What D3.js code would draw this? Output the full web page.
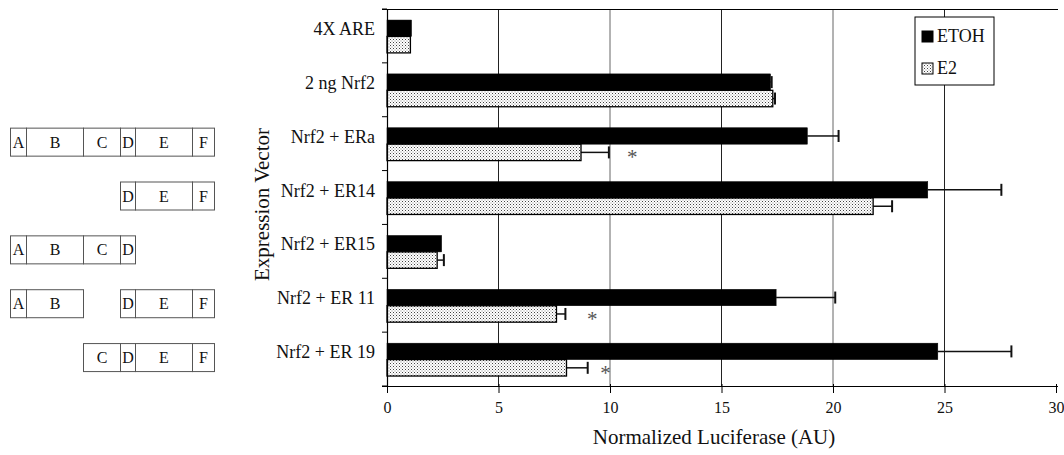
<!DOCTYPE html>
<html>
<head>
<meta charset="utf-8">
<script src="https://cdn.jsdelivr.net/npm/d3@7"></script>
<style>
  html, body { margin: 0; padding: 0; background: #fff; }
  svg { display: block; font-family: "Liberation Serif", "Times New Roman", serif; }
</style>
</head>
<body>
<svg id="chart" width="1064" height="455"></svg>
<script>
// ---- data ----
const categories = ["4X ARE", "2 ng Nrf2", "Nrf2 + ERa", "Nrf2 + ER14", "Nrf2 + ER15", "Nrf2 + ER 11", "Nrf2 + ER 19"];
const series = ["ETOH", "E2"];
const etohValues = [1.1, 17.2, 18.85, 24.25, 2.45, 17.45, 24.7];
const etohErrors = [0, 0.05, 1.4, 3.3, 0, 2.65, 3.3];
const e2Values = [1.05, 17.3, 8.7, 21.8, 2.25, 7.6, 8.05];
const e2Errors = [0, 0.1, 1.25, 0.85, 0.3, 0.4, 0.95];
const significant = [false, false, true, false, false, true, true];
const starValues = [0, 0, 11.0, 0, 0, 9.2, 9.8];
const xTicks = [0, 5, 10, 15, 20, 25, 30];
const xTitle = "Normalized Luciferase (AU)";
const yTitle = "Expression Vector";

// domain diagrams (schematic domain boundaries, arbitrary units)
const domainNames = ["A", "B", "C", "D", "E", "F"];
const domainStart = [0, 16, 73, 110, 125, 182];
const domainEnd = [16, 73, 110, 125, 182, 204];
const constructCategories = ["Nrf2 + ERa", "Nrf2 + ER14", "Nrf2 + ER15", "Nrf2 + ER 11", "Nrf2 + ER 19"];
const constructDomains = [
  ["A", "B", "C", "D", "E", "F"],
  ["D", "E", "F"],
  ["A", "B", "C", "D"],
  ["A", "B", "D", "E", "F"],
  ["C", "D", "E", "F"]
];

// ---- layout ----
const svg = d3.select("#chart");
const plot = { left: 387, right: 1056, top: 9, bottom: 386 };

const x = d3.scaleLinear().domain([0, 30]).range([plot.left, plot.right]);
const y = d3.scaleBand().domain(categories).range([plot.top, plot.bottom]);
const bw = y.bandwidth();
const sub = d3.scaleBand().domain(series).range([bw * 0.205, bw * 0.815]);

// pattern for E2
const defs = svg.append("defs");
const pat = defs.append("pattern").attr("id", "dots").attr("patternUnits", "userSpaceOnUse")
  .attr("width", 3).attr("height", 3);
pat.append("rect").attr("width", 3).attr("height", 3).attr("fill", "#fff");
pat.append("rect").attr("x", 0).attr("y", 0).attr("width", 1).attr("height", 1).attr("fill", "#444");
pat.append("rect").attr("x", 1.5).attr("y", 1.5).attr("width", 1).attr("height", 1).attr("fill", "#888");

// gridlines
svg.append("g").selectAll("line").data(xTicks.filter(t => t > 0 && t < 30)).join("line")
  .attr("x1", d => x(d)).attr("x2", d => x(d))
  .attr("y1", plot.top).attr("y2", plot.bottom)
  .attr("stroke", (d, i) => (i % 2 === 0 ? "#222" : "#666")).attr("stroke-width", 1);

// top border
svg.append("line").attr("x1", plot.left - 5).attr("x2", plot.right + 2)
  .attr("y1", plot.top + 0.5).attr("y2", plot.top + 0.5).attr("stroke", "#000").attr("stroke-width", 1.2);

// bars
const rows = categories.map((c, i) => ({
  c, i,
  vals: [
    { s: "ETOH", v: etohValues[i], e: etohErrors[i] },
    { s: "E2", v: e2Values[i], e: e2Errors[i] }
  ]
}));

const g = svg.append("g");
rows.forEach(r => {
  r.vals.forEach(d => {
    const yy = y(r.c) + sub(d.s);
    const h = sub.bandwidth();
    // error bar
    if (d.e > 0) {
      const cy = yy + h / 2;
      g.append("line").attr("x1", x(d.v)).attr("x2", x(d.v + d.e))
        .attr("y1", cy).attr("y2", cy).attr("stroke", "#111").attr("stroke-width", 1.5);
      g.append("line").attr("x1", x(d.v + d.e)).attr("x2", x(d.v + d.e))
        .attr("y1", cy - 6).attr("y2", cy + 6).attr("stroke", "#111").attr("stroke-width", 2);
    }
    g.append("rect")
      .attr("x", x(0)).attr("y", yy)
      .attr("width", x(d.v) - x(0)).attr("height", h)
      .attr("fill", d.s === "ETOH" ? "#000" : "url(#dots)")
      .attr("stroke", "#000").attr("stroke-width", d.s === "ETOH" ? 0.5 : 1.3);
  });
});

// significance stars
svg.append("g").selectAll("text").data(categories.map((c, i) => ({ c, i })).filter(d => significant[d.i])).join("text")
  .attr("x", d => x(starValues[d.i]))
  .attr("y", d => y(d.c) + sub("E2") + sub.bandwidth() / 2 + 12)
  .attr("text-anchor", "middle")
  .attr("font-size", 21).attr("fill", "#555")
  .text("*");

// x axis
const xAxis = d3.axisBottom(x).tickValues(xTicks).tickFormat(d3.format("d"))
  .tickSizeInner(7).tickSizeOuter(0).tickPadding(9);
const xa = svg.append("g").attr("transform", `translate(0,${plot.bottom})`).call(xAxis);
xa.select(".domain").attr("stroke", "#000").attr("stroke-width", 1.2)
  .attr("d", `M${plot.left - 5},0.5H${plot.right + 2}`);
xa.selectAll(".tick line").attr("stroke", "#000").attr("y1", -2);
xa.selectAll(".tick text").attr("font-size", 16).attr("fill", "#111")
  .attr("font-family", "Liberation Serif, serif");

// y axis
const yAxis = d3.axisLeft(y).tickSize(0).tickPadding(12);
const ya = svg.append("g").attr("transform", `translate(${plot.left},0)`).call(yAxis);
ya.select(".domain").attr("stroke", "#000").attr("stroke-width", 1.2);
ya.selectAll(".tick text").attr("font-size", 18).attr("fill", "#111")
  .attr("font-family", "Liberation Serif, serif").attr("dy", "-0.05em");
// band boundary ticks
const boundaries = categories.map(c => y(c)).concat([plot.bottom]);
svg.append("g").selectAll("line").data(boundaries).join("line")
  .attr("x1", plot.left - 5).attr("x2", plot.left)
  .attr("y1", d => d).attr("y2", d => d)
  .attr("stroke", "#000").attr("stroke-width", 1);

// axis titles
svg.append("text").attr("x", 714).attr("y", 444).attr("text-anchor", "middle")
  .attr("font-size", 21).attr("fill", "#111").text(xTitle);
svg.append("text").attr("transform", `translate(269,${(plot.top + plot.bottom) / 2 + 7}) rotate(-90)`)
  .attr("text-anchor", "middle").attr("font-size", 21).attr("fill", "#111").text(yTitle);

// legend
const lg = svg.append("g").attr("transform", "translate(915,17)");
lg.append("rect").attr("width", 79).attr("height", 68).attr("fill", "#fff").attr("stroke", "#000").attr("stroke-width", 1);
series.forEach((s, i) => {
  const yy = 14 + i * 32;
  lg.append("rect").attr("x", 7).attr("y", yy).attr("width", 11).attr("height", 11)
    .attr("fill", s === "ETOH" ? "#000" : "url(#dots)").attr("stroke", "#000").attr("stroke-width", 1);
  lg.append("text").attr("x", 22).attr("y", yy + 11).attr("font-size", 18).attr("fill", "#111").text(s);
});

// domain diagrams
const dx = d3.scaleLinear().domain([0, 204]).range([10, 214]);
const dg = svg.append("g");
constructCategories.forEach((c, ci) => {
  const cy = y(c) + bw / 2 - 2;
  const top = cy - 14, h = 28;
  constructDomains[ci].forEach(name => {
    const k = domainNames.indexOf(name);
    dg.append("rect").attr("x", dx(domainStart[k]) + 0.5).attr("y", top + 0.5)
      .attr("width", dx(domainEnd[k]) - dx(domainStart[k])).attr("height", h)
      .attr("fill", "#fff").attr("stroke", "#555").attr("stroke-width", 1);
    dg.append("text").attr("x", (dx(domainStart[k]) + dx(domainEnd[k])) / 2 + 0.5)
      .attr("y", cy + 6).attr("text-anchor", "middle").attr("font-size", 16).attr("fill", "#111").text(name);
  });
});
</script>
</body>
</html>
